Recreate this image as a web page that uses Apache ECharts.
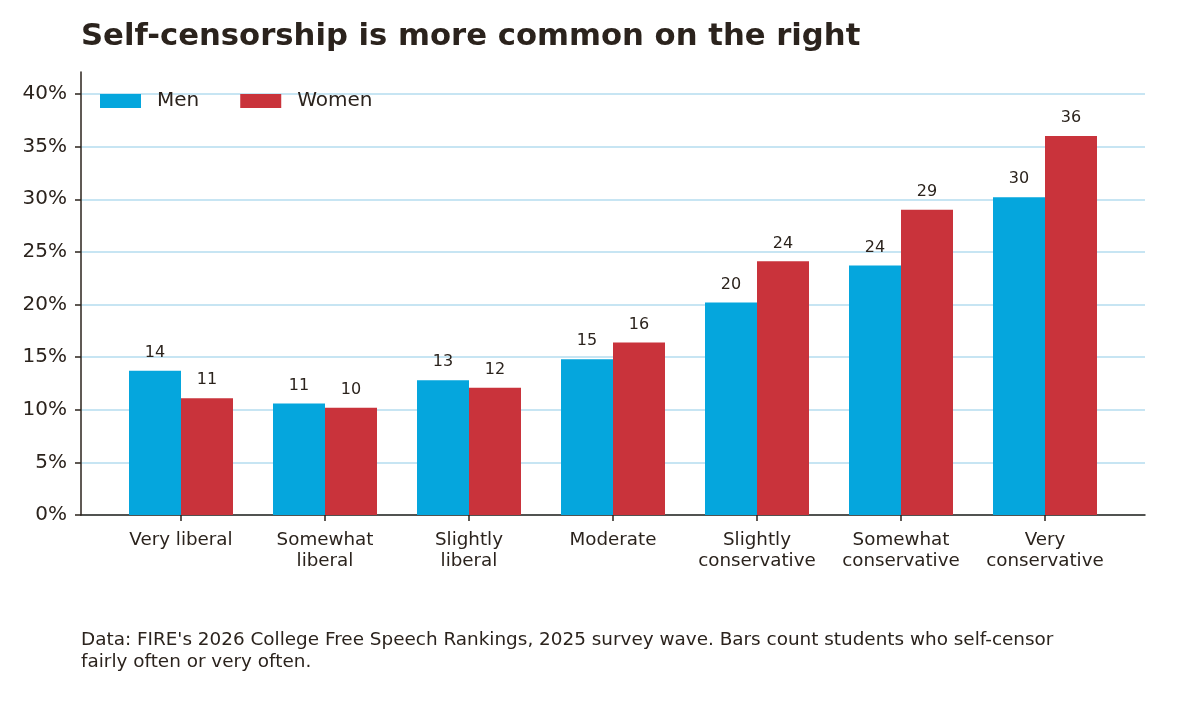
<!DOCTYPE html>
<html>
<head>
<meta charset="utf-8">
<script src="https://cdn.jsdelivr.net/npm/echarts@6/dist/echarts.min.js"></script>
<style>
  html, body { margin: 0; padding: 0; background: #fff; }
  #chart { width: 1184px; height: 708px; }
</style>
</head>
<body>
<div id="chart"></div>
<script>
var categories = ['Very liberal', 'Somewhat\nliberal', 'Slightly\nliberal', 'Moderate',
  'Slightly\nconservative', 'Somewhat\nconservative', 'Very\nconservative'];
var men = [13.7, 10.6, 12.8, 14.8, 20.2, 23.7, 30.2];
var women = [11.1, 10.2, 12.1, 16.4, 24.1, 29.0, 36.0];
var yTicks = { min: 0, max: 40, step: 5 };

var ink = '#2b231d';
var font = 'DejaVu Sans';

var barLabel = {
  show: true,
  position: 'top',
  distance: 10,
  color: ink,
  fontSize: 16,
  fontFamily: font,
  formatter: function (p) { return Math.round(p.value); }
};

var chart = echarts.init(document.getElementById('chart'), null, { renderer: 'canvas' });
chart.setOption({
  animation: false,
  backgroundColor: '#fff',
  textStyle: { fontFamily: font, color: ink },
  title: [
    {
      text: 'Self-censorship is more common on the right',
      left: 81, top: 22, padding: 0,
      textStyle: { fontFamily: font, fontSize: 30.7, fontWeight: 'bold', color: ink }
    },
    {
      text: "Data: FIRE's 2026 College Free Speech Rankings, 2025 survey wave. Bars count students who self-censor\nfairly often or very often.",
      left: 81, top: 629, padding: 0,
      textStyle: { fontFamily: font, fontSize: 18.4, fontWeight: 'normal', color: ink, lineHeight: 22 }
    }
  ],
  legend: {
    data: ['Men', 'Women'],
    left: 100, top: 91, padding: 0,
    itemWidth: 41, itemHeight: 14, itemGap: 41,
    icon: 'rect',
    textStyle: { fontFamily: font, fontSize: 20, color: ink, padding: [0, 0, 0, 11] }
  },
  grid: [
    { left: 81, right: 39, top: 94, bottom: 193 },   // gridlines + y labels
    { left: 81, right: 39, top: 72, bottom: 193 },   // axis lines
    { left: 109, right: 67, top: 94, bottom: 193 }   // bars
  ],
  xAxis: [
    { gridIndex: 0, type: 'value', min: 0, max: 1, show: false },
    {
      gridIndex: 1, type: 'value', min: 0, max: 1,
      axisLine: { show: true, lineStyle: { color: ink, width: 1.5 } },
      axisTick: { show: false }, axisLabel: { show: false }, splitLine: { show: false }
    },
    {
      gridIndex: 2, type: 'category', data: categories,
      axisLine: { show: false },
      axisTick: { show: true, alignWithLabel: true, length: 6, lineStyle: { color: ink, width: 1.5 } },
      axisLabel: { color: ink, fontSize: 18.3, fontFamily: font, lineHeight: 21, margin: 15, interval: 0 },
      splitLine: { show: false }
    }
  ],
  yAxis: [
    {
      gridIndex: 0, type: 'value', min: yTicks.min, max: yTicks.max, interval: yTicks.step,
      axisLine: { show: false },
      axisTick: { show: true, length: 6, lineStyle: { color: ink, width: 1.5 } },
      axisLabel: { color: ink, fontSize: 20, fontFamily: font, margin: 14, formatter: '{value}%' },
      splitLine: { show: true, lineStyle: { color: '#b5dcef', width: 1.6 } }
    },
    {
      gridIndex: 1, type: 'value', min: 0, max: 1,
      axisLine: { show: true, lineStyle: { color: ink, width: 1.5 } },
      axisTick: { show: false }, axisLabel: { show: false }, splitLine: { show: false }
    },
    { gridIndex: 2, type: 'value', min: yTicks.min, max: yTicks.max, show: false }
  ],
  series: [
    {
      name: 'Men', type: 'bar', xAxisIndex: 2, yAxisIndex: 2,
      data: men, barWidth: 52, barGap: '0%',
      itemStyle: { color: '#05a6dd' },
      label: barLabel
    },
    {
      name: 'Women', type: 'bar', xAxisIndex: 2, yAxisIndex: 2,
      data: women, barWidth: 52, barGap: '0%',
      itemStyle: { color: '#c9333b' },
      label: barLabel
    }
  ]
});
</script>
</body>
</html>
